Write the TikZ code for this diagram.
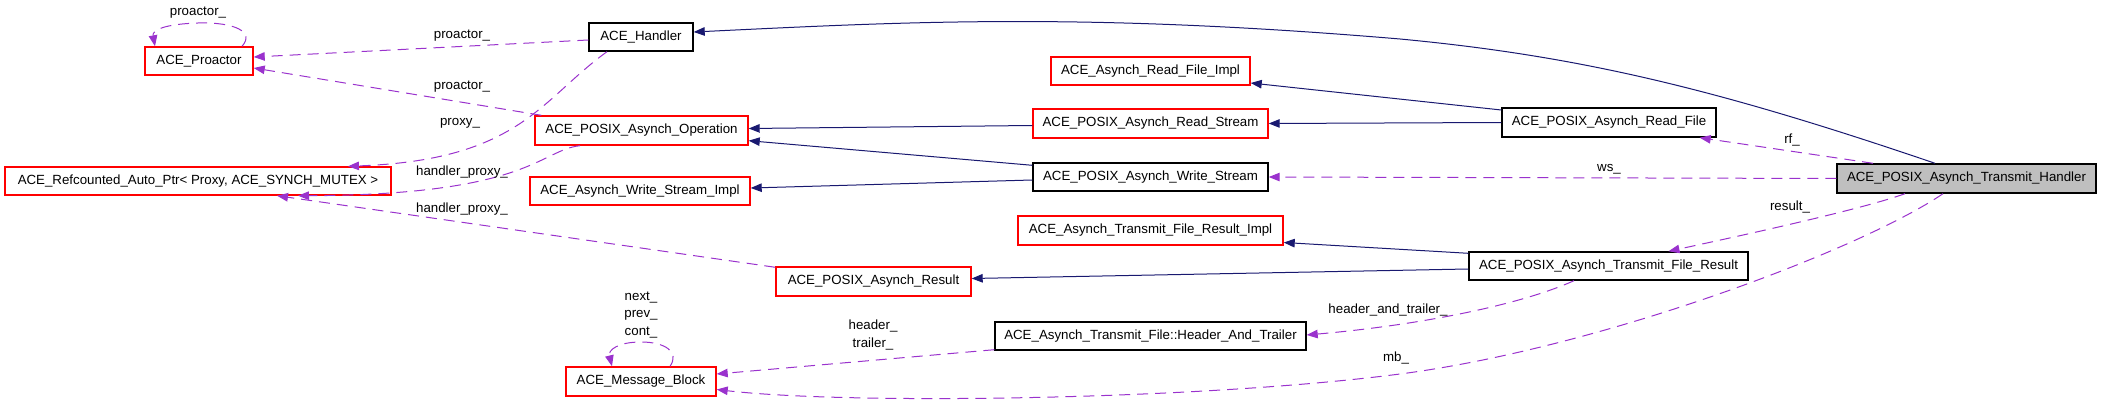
\documentclass[tikz,border=0pt]{standalone}
\usepackage{fontspec}
\setmainfont{Liberation Sans}
\usetikzlibrary{arrows.meta,calc}
\definecolor{edgeblue}{HTML}{191970}
\definecolor{edgepurple}{HTML}{9A32CD}
\definecolor{boxred}{HTML}{FF0000}
\definecolor{boxgray}{HTML}{BFBFBF}
\begin{document}
\begin{tikzpicture}[x=1pt,y=-1pt,
  box/.style={draw, line width=1.4pt, inner sep=0pt, minimum height=28pt,
    font=\fontsize{13.3}{16}\selectfont, anchor=center},
  redbox/.style={box, draw=boxred},
  blackbox/.style={box, draw=black},
  graybox/.style={box, draw=black, fill=boxgray},
  lbl/.style={inner sep=0pt, font=\fontsize{13.3}{17.5}\selectfont, align=center},
  inh/.style={draw=edgeblue, line width=1pt, -{Triangle[length=11pt,width=8.5pt]}},
  use/.style={draw=edgepurple, line width=1pt, dash pattern=on 11pt off 7pt,
    -{Triangle[length=11pt,width=8.5pt]}}
]
\useasboundingbox (0,0) rectangle (2101,403);

% nodes
\node[redbox, minimum width=108pt] (proactor) at (199,61) {ACE\_Proactor};
\node[blackbox, minimum width=104pt] (handler) at (641,37) {ACE\_Handler};
\node[redbox, minimum width=386pt] (refptr) at (198,181) {ACE\_Refcounted\_Auto\_Ptr< Proxy, ACE\_SYNCH\_MUTEX >};
\node[redbox, minimum width=213pt, minimum height=29pt] (oper) at (641.5,130.5) {ACE\_POSIX\_Asynch\_Operation};
\node[redbox, minimum width=220pt] (wsimpl) at (640,191) {ACE\_Asynch\_Write\_Stream\_Impl};
\node[redbox, minimum width=199pt] (rfimpl) at (1150.5,71) {ACE\_Asynch\_Read\_File\_Impl};
\node[redbox, minimum width=235pt, minimum height=29pt] (rstream) at (1150.5,123.5) {ACE\_POSIX\_Asynch\_Read\_Stream};
\node[blackbox, minimum width=235pt] (wstream) at (1150.5,177) {ACE\_POSIX\_Asynch\_Write\_Stream};
\node[blackbox, minimum width=214pt, minimum height=29pt] (rfile) at (1609,122.5) {ACE\_POSIX\_Asynch\_Read\_File};
\node[graybox, minimum width=259pt, minimum height=29pt] (th) at (1966.5,178.5) {ACE\_POSIX\_Asynch\_Transmit\_Handler};
\node[redbox, minimum width=265pt, minimum height=29pt] (tfrimpl) at (1150.5,230.5) {ACE\_Asynch\_Transmit\_File\_Result\_Impl};
\node[redbox, minimum width=195pt, minimum height=29pt] (presult) at (873.5,281.5) {ACE\_POSIX\_Asynch\_Result};
\node[blackbox, minimum width=311pt] (hat) at (1150.5,336) {ACE\_Asynch\_Transmit\_File::Header\_And\_Trailer};
\node[redbox, minimum width=150pt, minimum height=29pt] (mb) at (641,381.5) {ACE\_Message\_Block};
\node[blackbox, minimum width=279pt] (tfr) at (1608.5,266) {ACE\_POSIX\_Asynch\_Transmit\_File\_Result};

% inheritance
\draw[inh] ($(th.north)+(-31.5,0)$) .. controls (1717,89) and (1580,56) .. (1400,39)
  .. controls (1080,12) and (903,22) .. ($(handler.east)+(0,-5)$);
\draw[inh] ($(rfile.west)+(0,-12.5)$) -- ($(rfimpl.east)+(0,12)$);
\draw[inh] (rfile.west) -- (rstream.east);
\draw[inh] ($(rstream.west)+(0,2)$) -- ($(oper.east)+(0,-2)$);
\draw[inh] ($(wstream.north west)+(0,3)$) -- ($(oper.south east)+(0,-5)$);
\draw[inh] ($(wstream.west)+(0,3)$) -- ($(wsimpl.east)+(0,-3)$);
\draw[inh] ($(tfr.north west)+(0,2)$) -- ($(tfrimpl.east)+(0,12)$);
\draw[inh] ($(tfr.west)+(0,3)$) -- ($(presult.east)+(0,-3)$);

% usage
\draw[use] ($(proactor.north)+(43,0)$) .. controls (255,32) and (235,22) .. (198,23)
  .. controls (165,24) and (152,30) .. ($(proactor.north)+(-44,0)$);
\node[lbl] (l1) at (198,13) {proactor\_};
\draw[use] ($(handler.west)+(0,3)$) -- ($(proactor.east)+(0,-4)$);
\node[lbl] (l2) at (462,36) {proactor\_};
\draw[use] ($(oper.north west)+(7,0)$) -- ($(proactor.east)+(0,7)$);
\node[lbl] (l3) at (462,87) {proactor\_};
\draw[use] ($(handler.south)+(-34,0)$) .. controls (540,100) and (520,160) .. ($(refptr.north)+(150,0)$);
\node[lbl] (l4) at (460,123) {proxy\_};
\draw[use] ($(oper.south)+(-61.5,0)$) .. controls (540,150) and (530,195) .. ($(refptr.south)+(100,0)$);
\node[lbl] (l5) at (462,172) {handler\_proxy\_};
\draw[use] ($(presult.north west)+(0,1)$) -- ($(refptr.south)+(79,0)$);
\node[lbl] (l6) at (462,209) {handler\_proxy\_};
\draw[use] ($(mb.north)+(29,0)$) .. controls (680,352) and (665,342) .. (641,342)
  .. controls (618,342) and (608,350) .. ($(mb.north)+(-29,0)$);
\node[lbl] (l7) at (641,315) {next\_\\prev\_\\cont\_};
\draw[use] ($(hat.south west)+(0,-1)$) -- ($(mb.east)+(0,-7.5)$);
\node[lbl] (l8) at (873,335) {header\_\\trailer\_};
\draw[use] ($(th.south)+(-23.5,0)$) .. controls (1860,250) and (1600,348) .. (1400,374)
  .. controls (1200,400) and (850,405) .. ($(mb.east)+(0,8)$);
\node[lbl] (l9) at (1396,358) {mb\_};
\draw[use] ($(th.south)+(-61.5,0)$) .. controls (1860,210) and (1730,238) .. ($(tfr.north)+(60,0)$);
\node[lbl] (l10) at (1790,207) {result\_};
\draw[use] ($(tfr.south)+(-34.5,0)$) .. controls (1520,305) and (1420,325) .. ($(hat.east)+(0,-1)$);
\node[lbl] (l11) at (1388,310) {header\_and\_trailer\_};
\draw[use] ($(th.north)+(-93.5,0)$) -- ($(rfile.south east)+(-17,0)$);
\node[lbl] (l12) at (1792,140) {rf\_};
\draw[use] (th.west) -- (wstream.east);
\node[lbl] (l13) at (1609,169) {ws\_};
\end{tikzpicture}
\end{document}
